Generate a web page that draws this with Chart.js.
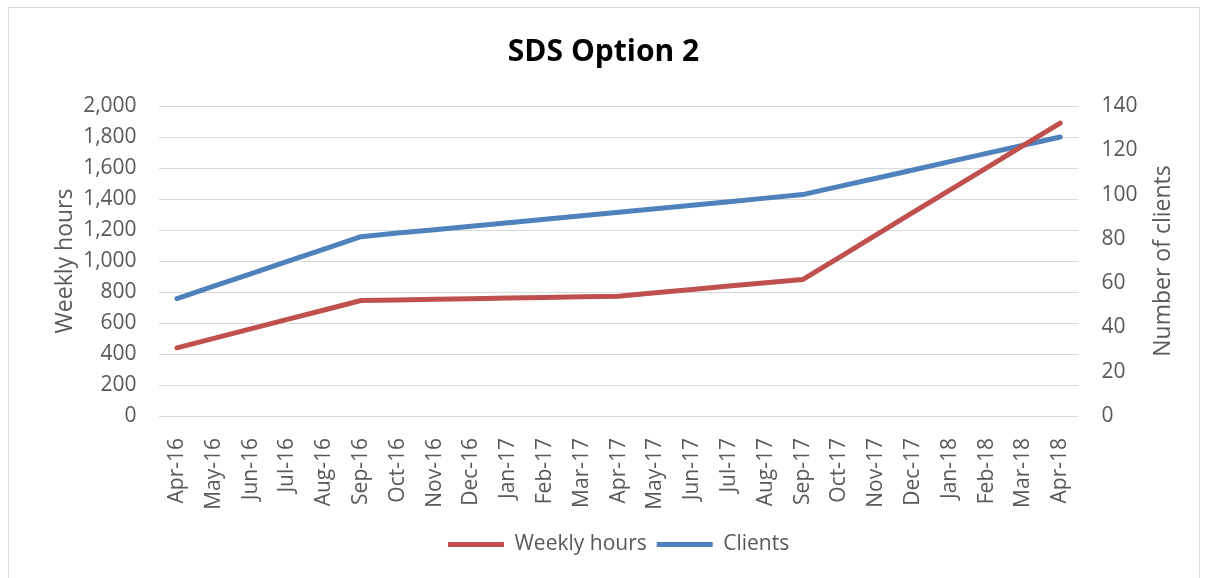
<!DOCTYPE html>
<html>
<head>
<meta charset="utf-8">
<script src="https://cdn.jsdelivr.net/npm/chart.js@4"></script>
<style>
  html, body { margin: 0; padding: 0; background: #fff; }
  #wrap { width: 1207px; height: 578px; position: relative; }
</style>
</head>
<body>
<div id="wrap"><canvas id="chart" width="1207" height="578"></canvas></div>
<script>
const months = ['Apr-16', 'May-16', 'Jun-16', 'Jul-16', 'Aug-16', 'Sep-16', 'Oct-16', 'Nov-16', 'Dec-16',
    'Jan-17', 'Feb-17', 'Mar-17', 'Apr-17', 'May-17', 'Jun-17', 'Jul-17', 'Aug-17', 'Sep-17', 'Oct-17',
    'Nov-17', 'Dec-17', 'Jan-18', 'Feb-18', 'Mar-18', 'Apr-18'];
const weeklyHours = [440, 501, 562, 623, 684, 745, 749, 753, 757, 761, 765, 769, 773,
    795, 816, 838, 859, 880, 1024, 1168, 1313, 1457, 1601, 1746, 1890];
const clients = [53, 58.6, 64.2, 69.8, 75.4, 81, 82.6, 84.1, 85.7, 87.3, 88.9, 90.4, 92,
    93.6, 95.2, 96.8, 98.4, 100, 103.7, 107.4, 111.1, 114.9, 118.6, 122.3, 126];
const hoursTicks = [0, 2000, 200];
const clientTicks = [0, 140, 20];

const grey = '#595959';
const font = 'Open Sans';

// outer frame + right axis title (reads bottom to top)
const extras = {
    id: 'extras',
    beforeDraw(chart) {
        const ctx = chart.ctx;
        ctx.save();
        ctx.strokeStyle = '#d9d9d9';
        ctx.lineWidth = 1;
        ctx.strokeRect(8.5, 7.5, 1191, 600);
        ctx.restore();
    },
    afterDraw(chart) {
        const ctx = chart.ctx;
        const area = chart.chartArea;
        ctx.save();
        ctx.translate(1163, (area.top + area.bottom) / 2);
        ctx.rotate(-Math.PI / 2);
        ctx.font = '23px "' + font + '"';
        ctx.fillStyle = grey;
        ctx.textAlign = 'center';
        ctx.textBaseline = 'middle';
        ctx.fillText('Number of clients', 0, 0);
        ctx.restore();
    }
};

Chart.defaults.font.family = font;
Chart.defaults.color = grey;

new Chart(document.getElementById('chart'), {
    type: 'line',
    data: {
        labels: months,
        datasets: [{
            label: 'Weekly hours',
            data: weeklyHours,
            yAxisID: 'y',
            borderColor: '#C0504D',
            backgroundColor: '#C0504D',
            borderWidth: 5,
            borderCapStyle: 'round',
            borderJoinStyle: 'round',
            pointRadius: 0,
            tension: 0
        }, {
            label: 'Clients',
            data: clients,
            yAxisID: 'y1',
            borderColor: '#4F81BD',
            backgroundColor: '#4F81BD',
            borderWidth: 5,
            borderCapStyle: 'round',
            borderJoinStyle: 'round',
            pointRadius: 0,
            tension: 0
        }]
    },
    options: {
        responsive: false,
        animation: false,
        layout: { padding: { top: 0, left: 0, right: 0, bottom: 13 } },
        plugins: {
            title: {
                display: true,
                text: 'SDS Option 2',
                color: '#000',
                font: { size: 30, weight: 'bold' },
                padding: { top: 34, bottom: 36 }
            },
            legend: {
                position: 'bottom',
                fullSize: false,
                labels: {
                    usePointStyle: true,
                    pointStyle: 'line',
                    pointStyleWidth: 56,
                    font: { size: 21 },
                    color: grey,
                    padding: 10
                }
            },
            tooltip: { enabled: false }
        },
        scales: {
            x: {
                offset: true,
                grid: { display: false },
                border: { display: false },
                ticks: { minRotation: 90, maxRotation: 90, autoSkip: false, padding: 14, font: { size: 21 } },
                afterFit(scale) { scale.height = 108; }
            },
            y: {
                position: 'left',
                min: hoursTicks[0],
                max: hoursTicks[1],
                ticks: { stepSize: hoursTicks[2], padding: 22, font: { size: 21 } },
                grid: { color: '#d9d9d9', drawTicks: false },
                border: { display: false },
                title: { display: true, text: 'Weekly hours', font: { size: 23 }, padding: { top: 52 } },
                afterFit(scale) { scale.width = 158.6; }
            },
            y1: {
                position: 'right',
                min: clientTicks[0],
                max: clientTicks[1],
                ticks: { stepSize: clientTicks[2], padding: 23, font: { size: 21 } },
                grid: { drawOnChartArea: false, drawTicks: false },
                border: { display: false },
                afterFit(scale) { scale.width = 128.4; }
            }
        }
    },
    plugins: [extras]
});
</script>
</body>
</html>
